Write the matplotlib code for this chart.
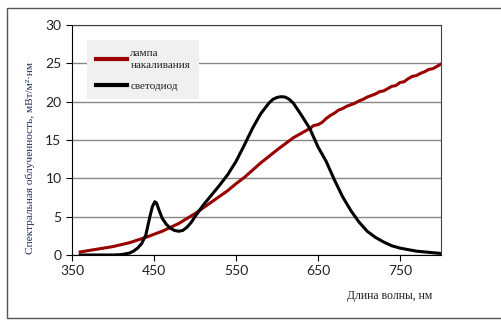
import matplotlib.pyplot as plt
from matplotlib.patches import Rectangle

# incandescent lamp spectrum
lamp_wl = [360, 380, 400, 420, 440, 460, 480, 500, 520, 540, 550, 560, 580, 600, 620,
           630, 640, 645, 650, 655, 660, 665, 670, 675, 680, 685, 690, 695, 700, 705,
           710, 715, 720, 725, 730, 735, 740, 745, 750, 755, 760, 765, 770, 775, 780,
           785, 790, 795, 800]
lamp_val = [0.4, 0.75, 1.1, 1.6, 2.3, 3.1, 4.1, 5.4, 6.9, 8.4, 9.3, 10.1, 12.0, 13.7, 15.3,
            15.9, 16.5, 16.9, 17.0, 17.3, 17.8, 18.2, 18.5, 18.9, 19.1, 19.4, 19.6, 19.8, 20.1, 20.3,
            20.6, 20.8, 21.0, 21.3, 21.4, 21.7, 22.0, 22.1, 22.5, 22.6, 23.0, 23.3, 23.4, 23.7, 23.9,
            24.2, 24.3, 24.6, 24.9]

# LED spectrum
led_wl = [360, 380, 400, 410, 420, 425, 430, 435, 440, 445, 448, 451, 453, 456, 460,
          465, 470, 475, 480, 485, 490, 495, 500, 510, 520, 530, 540, 550, 560, 570,
          580, 590, 595, 600, 605, 610, 615, 620, 625, 630, 640, 650, 660, 670, 680,
          690, 700, 710, 720, 730, 740, 750, 760, 770, 780, 790, 800]
led_val = [0.0, 0.0, 0.0, 0.05, 0.25, 0.5, 0.9, 1.5, 2.6, 5.0, 6.3, 6.95, 6.8, 5.9, 4.8,
           4.0, 3.5, 3.2, 3.1, 3.2, 3.6, 4.2, 5.0, 6.5, 7.8, 9.1, 10.5, 12.2, 14.3, 16.5,
           18.4, 19.8, 20.3, 20.55, 20.65, 20.6, 20.3, 19.8, 19.0, 18.2, 16.5, 14.1, 12.2, 9.8, 7.6,
           5.8, 4.3, 3.1, 2.3, 1.7, 1.2, 0.9, 0.7, 0.5, 0.4, 0.3, 0.2]

fig = plt.figure(figsize=(5.01, 3.2), dpi=100)
fig.patches.append(Rectangle((7 / 501, 2 / 320), 1.0, 310 / 320, transform=fig.transFigure,
                             fill=False, edgecolor='#555555', linewidth=1))

ax = fig.add_axes([72 / 501, 65 / 320, 369 / 501, 230 / 320])
ax.plot(lamp_wl, lamp_val, color='#990000', linewidth=2.2, label='лампа\nнакаливания')
ax.plot(led_wl, led_val, color='black', linewidth=2.2, label='светодиод')

ax.set_xlim(350, 800)
ax.set_ylim(0, 30)
ax.set_xticks([350, 450, 550, 650, 750])
ax.set_yticks(range(0, 31, 5))
ax.yaxis.grid(True, color='#888888', linewidth=1)
ax.set_axisbelow(True)
ax.tick_params(direction='out', length=4, labelsize=10, colors='black')
for lbl in ax.get_xticklabels() + ax.get_yticklabels():
    lbl.set_family('Lato')
    lbl.set_color('#222222')
ax.spines['top'].set_color('#404040')
ax.spines['right'].set_color('#404040')

fig.text(390 / 501, 1 - 296 / 320, 'Длина волны, нм', family='Liberation Serif',
         fontsize=8.5, ha='center', va='center', color='#222222')
fig.text(30 / 501, 1 - 158 / 320, 'Спектральная облученность, мВт/м²·нм',
         family='Liberation Serif', fontsize=8.2, rotation=90, ha='center', va='center',
         color='#1f2a55')

leg = ax.legend(loc='upper left', bbox_to_anchor=(15 / 369, 1 - 15 / 230), borderaxespad=0,
                frameon=True, fancybox=False, prop={'family': 'Liberation Serif', 'size': 8},
                handlelength=2.8, handletextpad=0.3, borderpad=0.8, labelspacing=1.0)
leg.get_frame().set_facecolor('#f0f0f0')
leg.get_frame().set_edgecolor('none')
leg.get_frame().set_alpha(1)
for line in leg.get_lines():
    line.set_linewidth(3)
for t in leg.get_texts():
    t.set_color('#222222')
    t.set_linespacing(1.4)

fig.savefig('out.png', dpi=100)
